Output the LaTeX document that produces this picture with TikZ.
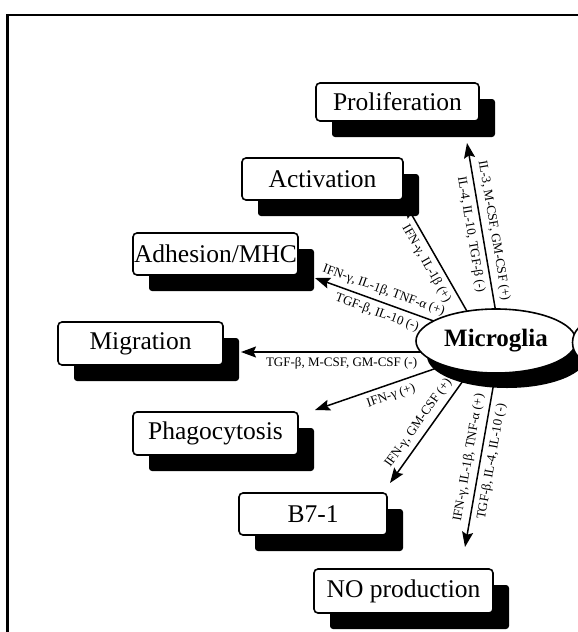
\documentclass[tikz,border=0pt]{standalone}
\usepackage{fontspec}
\setmainfont{Liberation Serif}
\usetikzlibrary{arrows.meta,shapes.geometric}
\begin{document}
\begin{tikzpicture}[x=1pt,y=-1pt,
  box/.style={draw=black, line width=1.6pt, fill=white, rounded corners=4pt, inner sep=0pt, font=\fontsize{25.5}{28}\selectfont},
  shade/.style={fill=black, rounded corners=3pt, inner sep=0pt},
  arr/.style={line width=1.5pt, -{Stealth[length=15pt,width=11pt,inset=2.5pt]}},
  lab/.style={font=\fontsize{13}{15}\selectfont, inner sep=5.5pt, sloped}
]
\useasboundingbox (0,0) rectangle (578,632);
\clip (0,0) rectangle (578,632);
% frame
\draw[line width=2.5pt] (7.5,640) -- (7.5,15) -- (590,15);

% shadows
\node[shade, minimum width=163pt, minimum height=38pt] (prolS) at (413.5,118) {};
\node[shade, minimum width=161pt, minimum height=42pt] (actS) at (338.5,195) {};
\node[shade, minimum width=165pt, minimum height=42pt] (adhS) at (231.5,270) {};
\node[shade, minimum width=165pt, minimum height=43pt] (migS) at (156.5,359.5) {};
\node[shade, minimum width=165pt, minimum height=43pt] (phaS) at (231.5,449.5) {};
\node[shade, minimum width=148pt, minimum height=42pt] (b7S) at (329,530) {};
\node[shade, minimum width=179pt, minimum height=44pt] (noS) at (419.5,607) {};

% boxes
\node[box, minimum width=163pt, minimum height=38pt] (prol) at (397.5,102) {Proliferation};
\node[box, minimum width=161pt, minimum height=42pt] (act) at (322.5,179) {Activation};
\node[box, minimum width=165pt, minimum height=42pt] (adh) at (215.5,254) {Adhesion/MHC};
\node[box, minimum width=165pt, minimum height=43pt] (mig) at (140.5,343.5) {Migration};
\node[box, minimum width=165pt, minimum height=43pt] (pha) at (215.5,433.5) {Phagocytosis};
\node[box, minimum width=148pt, minimum height=42pt] (b7) at (313,514) {B7-1};
\node[box, minimum width=179pt, minimum height=44pt] (no) at (403.5,591) {NO production};

% connector end points
\coordinate (s1) at (497,319);   \coordinate (t1) at (467,143);
\coordinate (s2) at (472,320);   \coordinate (t2) at (405,203);
\coordinate (s3) at (444.4,324.9); \coordinate (t3) at (315,278);
\coordinate (s4) at (433,352);   \coordinate (t4) at (241,352);
\coordinate (s5) at (446.5,364.7); \coordinate (t5) at (315,410);
\coordinate (s6) at (465.8,376.9); \coordinate (t6) at (390,483);
\coordinate (s7) at (494,382);   \coordinate (t7) at (465,547);

\draw[arr] (s1) -- (t1);
\draw[arr] (s2) -- (t2);
\draw[arr] (s3) -- (t3);
\draw[arr] (s4) -- (t4);
\draw[arr] (s5) -- (t5);
\draw[arr] (s6) -- (t6);
\draw[arr] (s7) -- (t7);

% microglia
\node[ellipse, fill=black, minimum width=160pt, minimum height=64pt, inner sep=0pt] (mgS) at (507,356) {};
\node[ellipse, draw, line width=1.6pt, fill=white, minimum width=160pt, minimum height=64pt, inner sep=0pt,
      font=\bfseries\fontsize{25}{28}\selectfont] (mg) at (496,341) {Microglia};
\node[circle, draw, line width=1.6pt, fill=white, minimum size=41pt, inner sep=0pt] (rc) at (593,342.5) {};

% labels
\path (s1) -- node[lab, pos=0.49, above]{IL-3, M-CSF, GM-CSF (+)}
              node[lab, pos=0.49, below]{IL-4, IL-10, TGF-β (-)} (t1);
\path (s2) -- node[lab, pos=0.53, below]{IFN-γ, IL-1β (+)} (t2);
\path (s3) -- node[lab, pos=0.50, above]{IFN-γ, IL-1β, TNF-α (+)}
              node[lab, pos=0.49, below]{TGF-β, IL-10 (-)} (t3);
\path (s4) -- node[lab, pos=0.476, below]{TGF-β, M-CSF, GM-CSF (-)} (t4);
\path (s5) -- node[lab, pos=0.45, below]{IFN-γ (+)} (t5);
\path (s6) -- node[lab, pos=0.50, above]{IFN-γ, GM-CSF (+)} (t6);
\path (s7) -- node[lab, pos=0.47, above]{IFN-γ, IL-1β, TNF-α (+)}
              node[lab, pos=0.47, below]{TGF-β, IL-4, IL-10 (-)} (t7);
\end{tikzpicture}
\end{document}
